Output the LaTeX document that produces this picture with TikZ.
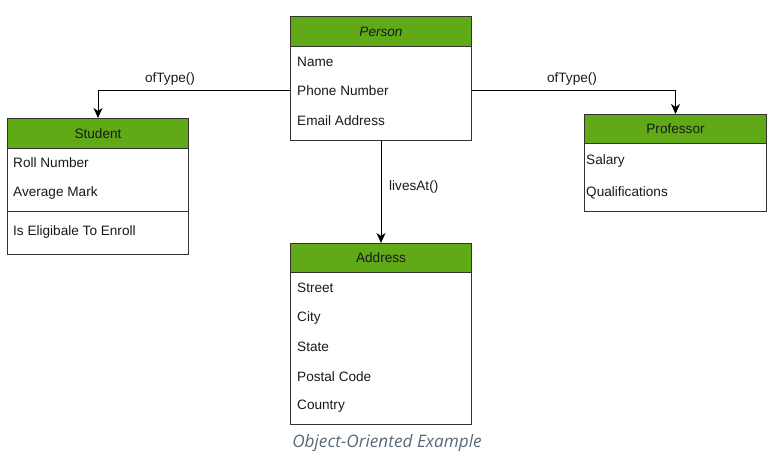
\documentclass[tikz,border=0pt]{standalone}
\usepackage{fontspec}
\setmainfont{Liberation Sans}
\newfontfamily\capfont{Open Sans}
\usetikzlibrary{arrows.meta}
\definecolor{hdr}{HTML}{60A917}
\definecolor{edgec}{HTML}{333333}
\definecolor{capc}{HTML}{5A6978}
\definecolor{txt}{HTML}{1A1A1A}
\begin{document}
\begin{tikzpicture}[x=1pt,y=-1pt, font=\fontsize{13.6}{16}\selectfont,
 box/.style={draw=edgec, line width=1pt, fill=white, anchor=north west, inner sep=0pt},
 hd/.style={draw=edgec, line width=1pt, fill=hdr, anchor=north west, inner sep=0pt, text=txt},
 row/.style={anchor=west, inner sep=0pt, text=txt},
 conn/.style={draw=black, line width=1pt, -{Stealth[length=10pt,width=9pt,inset=3pt]}},
 lbl/.style={inner sep=0pt, text=txt}]
\useasboundingbox (0,0) rectangle (777,456);
% Person
\node[box, minimum width=181pt, minimum height=124pt] (person) at (290,16) {};
\node[hd, minimum width=181pt, minimum height=30pt] (personh) at (290,16) {\itshape Person};
\node[row] (pname) at (297,62) {Name};
\node[row] (pphone) at (297,91) {Phone Number};
\node[row] (pemail) at (297,121) {Email Address};
% Student
\node[box, minimum width=181pt, minimum height=136pt] (student) at (7,118) {};
\node[hd, minimum width=181pt, minimum height=30pt] (studenth) at (7,118) {Student};
\node[row] (sroll) at (13,163) {Roll Number};
\node[row] (savg) at (13,193) {Average Mark};
\draw[edgec, line width=1pt] (student.west |- 0,211) -- (student.east |- 0,211);
\node[row] (selig) at (13,232) {Is Eligibale To Enroll};
% Professor
\node[box, minimum width=182pt, minimum height=97pt] (prof) at (584,114) {};
\node[hd, minimum width=182pt, minimum height=29pt] (profh) at (584,114) {Professor};
\node[row] (psal) at (586,161) {Salary};
\node[row] (pqual) at (586,193) {Qualifications};
% Address
\node[box, minimum width=181pt, minimum height=181pt] (addr) at (290,243) {};
\node[hd, minimum width=181pt, minimum height=29pt] (addrh) at (290,243) {Address};
\node[row] (astreet) at (297,288) {Street};
\node[row] (acity) at (297,318) {City};
\node[row] (astate) at (297,347) {State};
\node[row] (apostal) at (297,377) {Postal Code};
\node[row] (acountry) at (297,406) {Country};
% connectors
\draw[conn] (0,90 -| person.west) -| (studenth.north);
\node[lbl] (l1) at (170,79) {ofType()};
\draw[conn] (0,90 -| person.east) -| (profh.north);
\node[lbl] (l2) at (572,79) {ofType()};
\draw[conn] (person.south) -- (addrh.north);
\node[lbl, anchor=west] (l3) at (389,187) {livesAt()};
% caption
\node[text=capc, font=\capfont\itshape\fontsize{17.2}{20}\selectfont] (cap) at (387,443) {Object-Oriented Example};
\end{tikzpicture}
\end{document}
